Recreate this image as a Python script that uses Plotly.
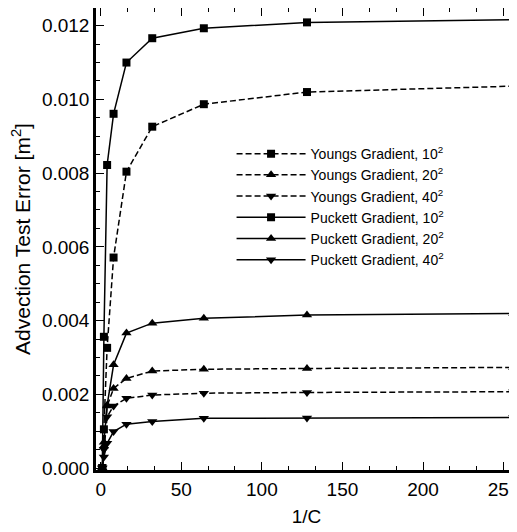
import plotly.graph_objects as go

inv_courant = [1, 2, 4, 8, 16, 32, 64, 128, 256]
youngs_10 = [0.0, 0.00105, 0.00326, 0.00571, 0.00804, 0.00926, 0.00987, 0.01020, 0.01036]
youngs_20 = [0.0, 0.00060, 0.00168, 0.00216, 0.00243, 0.00263, 0.00268, 0.00270, 0.00273]
youngs_40 = [0.0, 0.00050, 0.00139, 0.00168, 0.00189, 0.00198, 0.00203, 0.00205, 0.00207]
puckett_10 = [0.0, 0.00356, 0.00822, 0.00961, 0.01100, 0.01166, 0.01193, 0.01209, 0.01216]
puckett_20 = [0.0, 0.00070, 0.00170, 0.00280, 0.00366, 0.00393, 0.00406, 0.00415, 0.00419]
puckett_40 = [0.0, 0.00030, 0.00067, 0.00099, 0.00119, 0.00126, 0.00135, 0.00136, 0.00137]

names = ["Youngs Gradient, 10<sup>2</sup>", "Youngs Gradient, 20<sup>2</sup>",
         "Youngs Gradient, 40<sup>2</sup>", "Puckett Gradient, 10<sup>2</sup>",
         "Puckett Gradient, 20<sup>2</sup>", "Puckett Gradient, 40<sup>2</sup>"]
series = [youngs_10, youngs_20, youngs_40, puckett_10, puckett_20, puckett_40]
symbols = ["square", "triangle-up", "triangle-down", "square", "triangle-up", "triangle-down"]
dashes = ["6px,3px"] * 3 + ["solid"] * 3

fig = go.Figure()
for name, ys, sym, dash in zip(names, series, symbols, dashes):
    fig.add_trace(go.Scatter(
        x=inv_courant, y=ys, name=name, mode="lines+markers",
        line=dict(color="black", width=1.5, dash=dash),
        marker=dict(symbol=sym, size=9 if sym != "square" else 8, color="black"),
    ))

axis_common = dict(
    showgrid=False, zeroline=False, showline=True, linecolor="black", linewidth=2.5,
    mirror="allticks", ticks="inside", ticklen=8, tickwidth=1.2, tickcolor="black",
    automargin=False, ticklabeloverflow="allow",
    tickfont=dict(family="Liberation Sans, Arial", size=19, color="black"),
)

# the page body has an 8px margin, so the figure is sized/offset to compensate
fig.update_layout(
    template="none",
    width=509, height=524,
    margin=dict(l=88, r=0, t=0, b=62),
    paper_bgcolor="white", plot_bgcolor="white",
    showlegend=True,
    legend=dict(x=0.322, y=0.7185, xanchor="left", yanchor="top",
                bgcolor="rgba(0,0,0,0)", borderwidth=0, itemwidth=69,
                font=dict(family="Liberation Sans, Arial", size=14, color="black"),
                tracegroupgap=0),
    xaxis=dict(range=[-2.9, 258.3], dtick=50, tick0=0,
               minor=dict(dtick=50 / 3, ticks="inside", ticklen=4, tickcolor="black", showgrid=False),
               title=dict(text="1/C", font=dict(family="Liberation Sans, Arial", size=19, color="black"), standoff=12),
               **axis_common),
    yaxis=dict(range=[-0.000054, 0.01248], dtick=0.002, tick0=0, tickformat=".3f",
               minor=dict(dtick=0.0005, ticks="inside", ticklen=4, tickcolor="black", showgrid=False),
               title=dict(text="Advection Test Error [m<sup>2</sup>]",
                          font=dict(family="Liberation Sans, Arial", size=21, color="black"),
                          standoff=20),
               **axis_common),
)

fig.write_html("out.html")
